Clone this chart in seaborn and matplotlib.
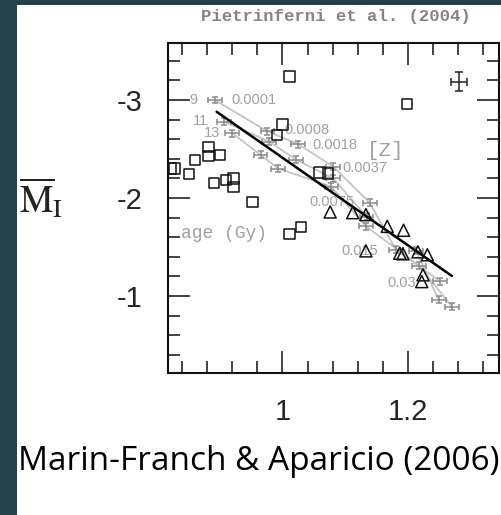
import matplotlib
matplotlib.use("Agg")
import matplotlib.pyplot as plt
from matplotlib.patches import Rectangle
from matplotlib.ticker import FixedLocator, FixedFormatter, MultipleLocator
import numpy as np
import pandas as pd
import seaborn as sns

# ---------------- data ----------------
# open squares (clusters)
sq_x = [1.011, 1.199, 1.000, 0.991, 0.882, 0.882, 0.900, 0.861, 0.822, 0.828,
        0.851, 0.891, 0.910, 0.922, 0.922, 0.952, 1.059, 1.073, 1.011, 1.030]
sq_y = [-3.24, -2.956, -2.75, -2.64, -2.52, -2.43, -2.44, -2.39, -2.30, -2.30,
        -2.245, -2.15, -2.18, -2.20, -2.115, -1.956, -2.26, -2.25, -1.63, -1.70]
# open triangles
tr_x = [1.076, 1.112, 1.133, 1.167, 1.193, 1.133, 1.187, 1.192, 1.216, 1.231, 1.224, 1.222]
tr_y = [-1.857, -1.85, -1.83, -1.71, -1.67, -1.46, -1.436, -1.43, -1.45, -1.42, -1.215, -1.146]
# linear fit
fit_x = [0.895, 1.270]
fit_y = [-2.88, -1.204]
# representative error bar
err_x, err_y, err_dx, err_dy = 1.281, -3.187, 0.013, 0.10

# Pietrinferni et al. (2004) models, ages 9, 11, 13 Gyr
z_labels = ["0.0001", "0.0008", "0.0018", "0.0037", "0.0075", "0.015", "0.03"]
ages = ["9", "11", "13"]
age9_x = [0.892, 0.976, 1.025, 1.081, 1.139, 1.181, 1.251]
age9_y = [-3.00, -2.68, -2.55, -2.32, -1.95, -1.47, -1.15]
age11_x = [0.907, 0.979, 1.022, 1.081, 1.134, 1.213, 1.249]
age11_y = [-2.78, -2.575, -2.39, -2.20, -1.81, -1.46, -0.96]
age13_x = [0.920, 0.965, 0.993, 1.078, 1.133, 1.218, 1.270]
age13_y = [-2.66, -2.44, -2.30, -2.115, -1.71, -1.31, -0.89]

x_major = [1.0, 1.2]
x_major_labels = ["1", "1.2"]
y_major = [-3, -2, -1]
y_major_labels = ["-3", "-2", "-1"]

# ---------------- figure ----------------
W, H = 502, 515
fig = plt.figure(figsize=(W / 100, H / 100), dpi=100)
fig.patch.set_facecolor("#21414b")
fig.add_artist(Rectangle((17 / W, 0), 1 - 17 / W, 1 - 5 / H, transform=fig.transFigure,
                         facecolor="white", edgecolor="none", zorder=0))

sns.set_style("ticks")
plt.rcParams["mathtext.fontset"] = "stix"

ax = fig.add_axes([167.7 / W, 1 - 373.3 / H, (499.5 - 167.7) / W, (373.3 - 42.7) / H])
ax.set_facecolor("white")

light = "#c4c4c4"
mid = "#8a8a8a"
lab = "#a0a0a0"

models = pd.DataFrame({
    "x": age9_x + age11_x + age13_x,
    "y": age9_y + age11_y + age13_y,
    "age": [ages[0]] * 7 + [ages[1]] * 7 + [ages[2]] * 7,
})
sns.lineplot(data=models, x="x", y="y", units="age", estimator=None, sort=False,
             color=light, lw=1.3, ax=ax, zorder=2)
ax.errorbar(models["x"], models["y"], xerr=0.011, yerr=0.035, fmt="none",
            ecolor=mid, elinewidth=1.1, capsize=2.2, capthick=1.1, zorder=3)

sns.lineplot(x=fit_x, y=fit_y, color="black", lw=1.8, ax=ax, zorder=5)

sns.scatterplot(x=sq_x, y=sq_y, marker="s", s=55, facecolor="none", edgecolor="#111111",
                linewidth=1.1, ax=ax, zorder=6)
sns.scatterplot(x=tr_x, y=tr_y, marker="^", s=75, facecolor="none", edgecolor="#111111",
                linewidth=1.1, ax=ax, zorder=6)
ax.errorbar([err_x], [err_y], xerr=err_dx, yerr=err_dy, fmt="none", ecolor="#222222",
            elinewidth=1.1, capsize=3, capthick=1.1, zorder=6)

# model labels
tkw = dict(color=lab, fontsize=10.5, family="Liberation Sans", va="center", zorder=4)
ax.text(0.858, -3.0, ages[0], ha="center", **tkw)
ax.text(0.869, -2.79, ages[1], ha="center", **tkw)
ax.text(0.888, -2.66, ages[2], ha="center", **tkw)
zpos = [(0.918, -3.0), (1.003, -2.69), (1.048, -2.545), (1.096, -2.31),
        (1.043, -1.96), (1.094, -1.46), (1.168, -1.13)]
for (px, py), t in zip(zpos, z_labels):
    ax.text(px, py, t, ha="left", **tkw)
ax.text(1.165, -2.48, "[Z]", ha="center", va="center", color=lab, fontsize=15,
        family="Liberation Mono", zorder=4)
ax.text(0.838, -1.64, "age (Gy)", ha="left", va="center", color=lab, fontsize=13,
        family="Liberation Mono", zorder=4)

# axes
ax.set_xlim(0.817, 1.346)
ax.set_ylim(-0.21, -3.585)
ax.xaxis.set_major_locator(FixedLocator(x_major))
ax.xaxis.set_major_formatter(FixedFormatter(x_major_labels))
ax.xaxis.set_minor_locator(MultipleLocator(0.04))
ax.yaxis.set_major_locator(FixedLocator(y_major))
ax.yaxis.set_major_formatter(FixedFormatter(y_major_labels))
ax.yaxis.set_minor_locator(MultipleLocator(0.2))
ax.tick_params(which="both", direction="in", top=True, right=True, color="#111111", width=1.1)
ax.tick_params(which="major", length=16, pad=18, labelsize=21)
ax.tick_params(which="minor", length=8.5)
for lbl in ax.get_xticklabels() + ax.get_yticklabels():
    lbl.set_family("Liberation Sans")
for s in ax.spines.values():
    s.set_visible(True)
    s.set_linewidth(1.5)
    s.set_color("#111111")
ax.set_xlabel("")
ax.set_ylabel("")

fig.text(336 / W, 1 - 17 / H, "Pietrinferni et al. (2004)", ha="center", va="center",
         color="#858585", fontsize=12.5, family="Liberation Mono", fontweight="bold")
fig.text(19 / W, 1 - 199 / H, r"$\overline{\mathrm{M}}_{\mathrm{I}}$", ha="left", va="center",
         color="#222222", fontsize=27)
fig.text(259 / W, 1 - 462 / H, "Marin-Franch & Aparicio (2006)", ha="center", va="center",
         color="black", fontsize=24, family="Open Sans")

fig.savefig("out.png", dpi=100, facecolor=fig.get_facecolor())
